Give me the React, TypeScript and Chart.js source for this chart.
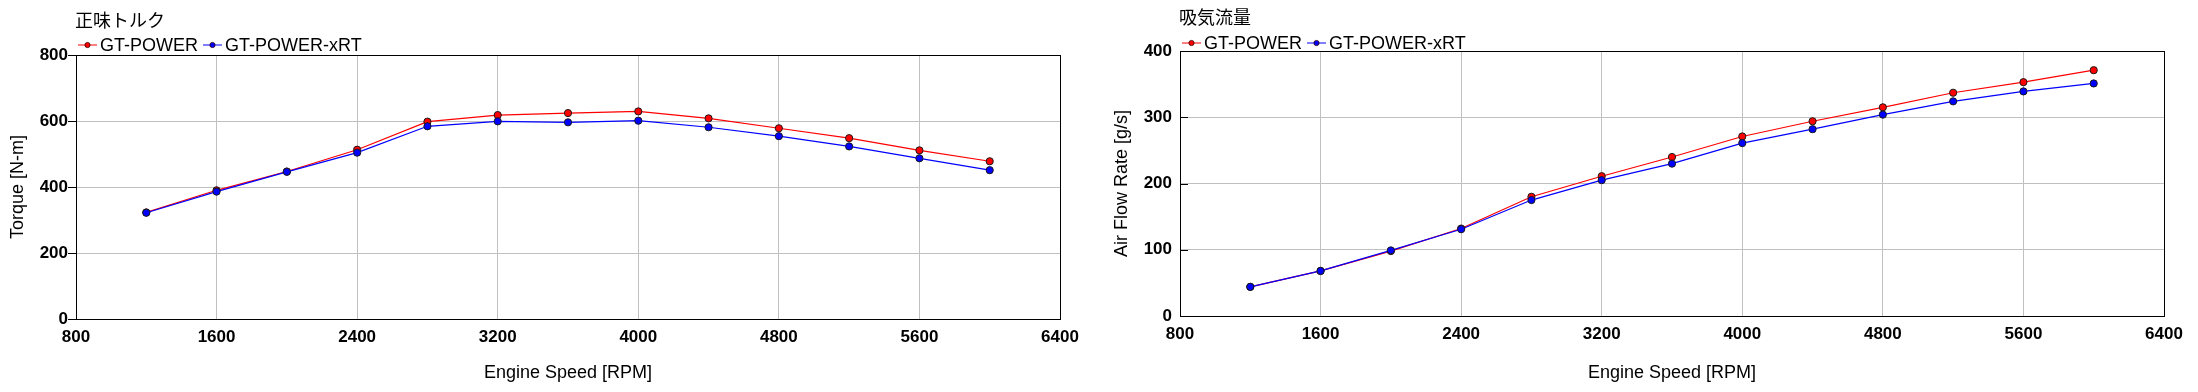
import React, { useEffect, useRef } from "react";
import { Chart, registerables } from "chart.js";

Chart.register(...registerables);

// ---------- data ----------
const rpm = [1200, 1600, 2000, 2400, 2800, 3200, 3600, 4000, 4400, 4800, 5200, 5600, 6000];
const torqueGT = [323, 390, 447, 513, 598, 618, 624, 629, 608, 578, 548, 511, 478];
const torqueXRT = [322, 386, 446, 504, 584, 599, 596, 601, 581, 554, 523, 487, 451];
const airGT = [44, 68, 98, 132, 180, 211, 240, 271, 294, 315, 337, 353, 371];
const airXRT = [44, 68, 99, 131, 175, 205, 230, 261, 282, 304, 324, 339, 351];

const seriesNames = ["GT-POWER", "GT-POWER-xRT"];
const seriesColors = ["#ff0000", "#0000ff"];
const xTicks = { min: 800, max: 6400, step: 800 };
const xTitle = "Engine Speed [RPM]";

const FONT = "'Liberation Sans', Arial, sans-serif";
const CJK = "'Noto Sans CJK JP', sans-serif";

const framePlugin = {
  id: "frame",
  afterDraw(chart: any, _args: any, opts: any) {
    const { ctx, chartArea: a } = chart;
    const y = chart.scales.y;
    const dir = opts && opts.inward ? 1 : -1;
    ctx.save();
    ctx.strokeStyle = "#000";
    ctx.lineWidth = 1;
    ctx.beginPath();
    y.ticks.forEach((t: any) => {
      const py = Math.round(y.getPixelForValue(t.value)) + 0.5;
      ctx.moveTo(a.left, py);
      ctx.lineTo(a.left + dir * 8, py);
    });
    ctx.stroke();
    ctx.strokeRect(
      Math.round(a.left) + 0.5,
      Math.round(a.top) + 0.5,
      Math.round(a.right - a.left),
      Math.round(a.bottom - a.top)
    );
    ctx.restore();
  },
};

type PanelProps = {
  left: number;
  width: number;
  plotLeft: number;
  plotTop: number;
  plotRight: number;
  plotBottom: number;
  yMax: number;
  yStep: number;
  yTitle: string;
  yTitlePad: number;
  inward: boolean;
  title: string;
  titleTop: number;
  legendTop: number;
  legendLeft: number;
  a: number[];
  b: number[];
};

function LegendMark({ color }: { color: string }) {
  return (
    <svg width="19" height="10" style={{ display: "block" }}>
      <line x1="0" y1="5" x2="19" y2="5" stroke={color} strokeWidth="1" />
      <circle cx="9.5" cy="5" r="2.6" fill={color} stroke="#300" strokeWidth="0.8" />
    </svg>
  );
}

function Panel(p: PanelProps) {
  const ref = useRef<HTMLCanvasElement | null>(null);
  useEffect(() => {
    if (!ref.current) return;
    const mk = (vals: number[], i: number) => ({
      label: seriesNames[i],
      data: rpm.map((x, k) => ({ x, y: vals[k] })),
      borderColor: seriesColors[i],
      backgroundColor: seriesColors[i],
      pointBackgroundColor: seriesColors[i],
      pointBorderColor: "#1a1a1a",
      pointBorderWidth: 1,
      pointRadius: 3.6,
      borderWidth: 1.2,
      order: i === 0 ? 1 : 0,
      tension: 0,
    });
    const chart = new Chart(ref.current, {
      type: "line",
      data: { datasets: [mk(p.a, 0), mk(p.b, 1)] },
      plugins: [framePlugin],
      options: {
        animation: false,
        responsive: false,
        maintainAspectRatio: false,
        layout: {
          padding: { left: 0, top: p.plotTop, right: p.width - p.plotRight, bottom: 0 },
        },
        plugins: {
          legend: { display: false },
          tooltip: { enabled: false },
          title: { display: false },
          frame: { inward: p.inward },
        },
        scales: {
          x: {
            type: "linear",
            min: xTicks.min,
            max: xTicks.max,
            afterBuildTicks: (s: any) => {
              const t = [];
              for (let v = xTicks.min; v <= xTicks.max; v += xTicks.step) t.push({ value: v });
              s.ticks = t;
            },
            afterFit: (s: any) => {
              s.height = 392 - p.plotBottom;
            },
            grid: { color: "#c0c0c0", lineWidth: 1, drawTicks: false },
            border: { display: false },
            ticks: {
              color: "#000",
              padding: 8,
              maxRotation: 0,
              font: { family: FONT, size: 17, weight: "bold" },
              callback: (v: any) => String(v),
            },
            title: {
              display: true,
              text: xTitle,
              color: "#000",
              font: { family: FONT, size: 18 },
              padding: { top: 4, bottom: 8 },
            },
          },
          y: {
            type: "linear",
            min: 0,
            max: p.yMax,
            ticks: {
              stepSize: p.yStep,
              color: "#000",
              padding: 8,
              font: { family: FONT, size: 17, weight: "bold" },
              callback: (v: any) => String(v),
            },
            afterFit: (s: any) => {
              s.width = p.plotLeft;
            },
            grid: { color: "#c0c0c0", lineWidth: 1, drawTicks: false },
            border: { display: false },
            title: {
              display: true,
              text: p.yTitle,
              color: "#000",
              font: { family: FONT, size: 18 },
              padding: { top: p.yTitlePad, bottom: 0 },
            },
          },
        },
      } as any,
    });
    return () => chart.destroy();
  }, []);

  return (
    <div style={{ position: "absolute", left: p.left, top: 0, width: p.width, height: 392 }}>
      <canvas ref={ref} width={p.width} height={392} style={{ position: "absolute", left: 0, top: 0, width: p.width, height: 392 }} />
      <div
        style={{
          position: "absolute",
          left: p.plotLeft - 1,
          top: p.titleTop,
          fontFamily: CJK,
          fontSize: 18,
          lineHeight: "20px",
          color: "#000",
          whiteSpace: "nowrap",
        }}
      >
        {p.title}
      </div>
      <div
        style={{
          position: "absolute",
          left: p.legendLeft,
          top: p.legendTop,
          display: "flex",
          alignItems: "center",
          fontFamily: FONT,
          fontSize: 18,
          lineHeight: "20px",
          color: "#000",
          whiteSpace: "nowrap",
        }}
      >
        {seriesNames.map((n, i) => (
          <div key={n} style={{ display: "flex", alignItems: "center", marginRight: 5 }}>
            <LegendMark color={seriesColors[i]} />
            <span style={{ marginLeft: 3 }}>{n}</span>
          </div>
        ))}
      </div>
    </div>
  );
}

export default function App() {
  return (
    <div style={{ position: "fixed", left: 0, top: 0, width: 2198, height: 392, background: "#fff", overflow: "hidden" }}>
      <Panel
        left={0}
        width={1099}
        plotLeft={76}
        plotTop={55}
        plotRight={1060}
        plotBottom={319}
        yMax={800}
        yStep={200}
        yTitle="Torque [N-m]"
        yTitlePad={7}
        inward={false}
        title="正味トルク"
        titleTop={9}
        legendTop={35}
        legendLeft={78}
        a={torqueGT}
        b={torqueXRT}
      />
      <Panel
        left={1099}
        width={1099}
        plotLeft={81}
        plotTop={51}
        plotRight={1065}
        plotBottom={316}
        yMax={400}
        yStep={100}
        yTitle="Air Flow Rate [g/s]"
        yTitlePad={12}
        inward={true}
        title="吸気流量"
        titleTop={6}
        legendTop={33}
        legendLeft={83}
        a={airGT}
        b={airXRT}
      />
    </div>
  );
}
